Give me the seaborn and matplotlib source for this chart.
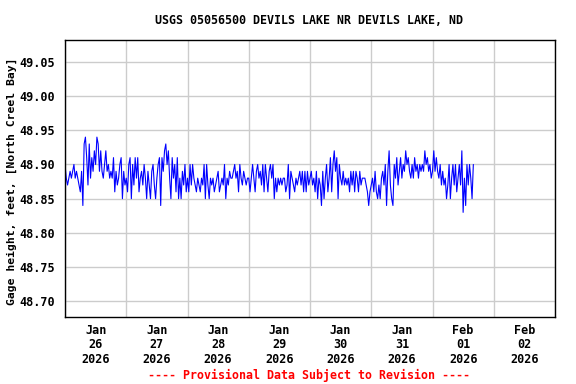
import numpy as np
import pandas as pd
import seaborn as sns
import matplotlib
matplotlib.use('Agg')
import matplotlib.pyplot as plt
import matplotlib.dates as mdates
import matplotlib.ticker as mticker

# Gage height readings every 30 minutes, in hundredths of a foot above 48 ft
jan26 = [90, 88, 87, 88, 89, 88, 89, 90, 88, 89, 88, 87, 86, 89, 84, 93,
         94, 91, 87, 93, 88, 91, 89, 92, 90, 94, 93, 89, 92, 89, 88, 90,
         92, 89, 90, 88, 89, 88, 91, 86, 89, 87, 88, 90, 91, 85, 89, 87]
jan27 = [88, 86, 90, 91, 85, 90, 87, 91, 88, 91, 86, 88, 89, 87, 90, 88,
         85, 89, 87, 85, 89, 90, 87, 85, 88, 90, 91, 84, 91, 89, 92, 93,
         90, 92, 88, 85, 91, 88, 90, 86, 91, 85, 88, 85, 89, 87, 90, 86]
jan28 = [88, 86, 90, 87, 90, 88, 87, 86, 88, 87, 86, 88, 87, 90, 85, 90,
         87, 85, 88, 87, 88, 86, 87, 88, 89, 86, 87, 88, 87, 90, 85, 88,
         87, 89, 88, 88, 89, 90, 88, 89, 86, 90, 88, 87, 89, 88, 87, 88]
jan29 = [88, 86, 88, 90, 88, 86, 89, 90, 88, 89, 87, 90, 86, 90, 88, 86,
         89, 90, 88, 90, 85, 88, 86, 88, 87, 88, 87, 88, 88, 86, 87, 90,
         85, 89, 88, 87, 86, 88, 87, 88, 89, 87, 89, 86, 89, 86, 89, 87]
jan30 = [88, 89, 87, 88, 86, 89, 85, 88, 87, 84, 89, 85, 88, 90, 86, 88,
         91, 86, 90, 92, 89, 91, 85, 90, 88, 87, 89, 87, 88, 87, 88, 86,
         89, 87, 89, 86, 89, 88, 86, 89, 87, 88, 88, 88, 87, 86, 84, 86]
jan31 = [87, 88, 86, 89, 86, 85, 87, 85, 88, 89, 87, 90, 84, 89, 92, 87,
         85, 84, 90, 88, 91, 87, 89, 91, 88, 90, 89, 92, 90, 91, 89, 88,
         90, 88, 91, 89, 90, 88, 90, 89, 90, 89, 92, 90, 91, 89, 90, 88]
feb01 = [89, 92, 89, 91, 89, 88, 90, 87, 89, 87, 88, 85, 87, 90, 85, 88,
         90, 87, 90, 86, 88, 90, 87, 92, 83, 88, 84, 90, 87, 90, 88, 85, 90]

title = 'USGS 05056500 DEVILS LAKE NR DEVILS LAKE, ND'
ylabel = 'Gage height, feet, [North Creel Bay]'
note = '---- Provisional Data Subject to Revision ----'
yticks = [48.70, 48.75, 48.80, 48.85, 48.90, 48.95, 49.00, 49.05]

vals = np.array(jan26 + jan27 + jan28 + jan29 + jan30 + jan31 + feb01)
gage = 48 + vals / 100.0
times = pd.date_range('2026-01-26 00:00', periods=len(gage), freq='30min')
df = pd.DataFrame({'time': times, 'gage': gage})

sns.set_theme(style='white')
plt.rcParams['font.family'] = ['DejaVu Sans Mono']
plt.rcParams['font.weight'] = 'bold'

fig = plt.figure(figsize=(5.76, 3.84), dpi=100)
ax = fig.add_axes([65/576, 1 - 317/384, 490/576, 277/384])

sns.lineplot(data=df, x='time', y='gage', ax=ax, color='#0000ff', linewidth=0.8)

ax.set_xlim(pd.Timestamp('2026-01-26'), pd.Timestamp('2026-02-03'))
ax.set_ylim(48.677, 49.082)
ax.set_yticks(yticks)
ax.yaxis.set_major_formatter(mticker.FormatStrFormatter('%.2f'))

ax.xaxis.set_major_locator(mdates.HourLocator(byhour=[12]))
ax.xaxis.set_major_formatter(mdates.DateFormatter('%b\n%d\n%Y'))
ax.xaxis.set_minor_locator(mdates.DayLocator())

ax.grid(False)
ax.grid(which='minor', axis='x', color='#cccccc', linewidth=1)
ax.grid(which='major', axis='y', color='#cccccc', linewidth=1)
ax.set_axisbelow(True)
ax.tick_params(which='both', length=0, labelsize=8.5, colors='black')
ax.tick_params(axis='x', pad=5)
ax.tick_params(axis='y', pad=7)
for lab in ax.get_xticklabels():
    lab.set_linespacing(1.15)
    lab.set_fontweight('bold')
for lab in ax.get_yticklabels():
    lab.set_fontweight('bold')

for sp in ax.spines.values():
    sp.set_color('black')
    sp.set_linewidth(1)

ax.set_xlabel('')
ax.set_ylabel(ylabel, fontsize=8.2, fontweight='bold', color='black')
ax.yaxis.set_label_coords(-0.097, 0.49)

fig.text(309/576, 1 - 20/384, title, ha='center', va='center',
         fontsize=8.4, fontweight='bold', color='black')
fig.text(309/576, 1 - 375/384, note, ha='center', va='center',
         fontsize=8.4, fontweight='bold', color='red')

fig.savefig('out.png', dpi=100)
